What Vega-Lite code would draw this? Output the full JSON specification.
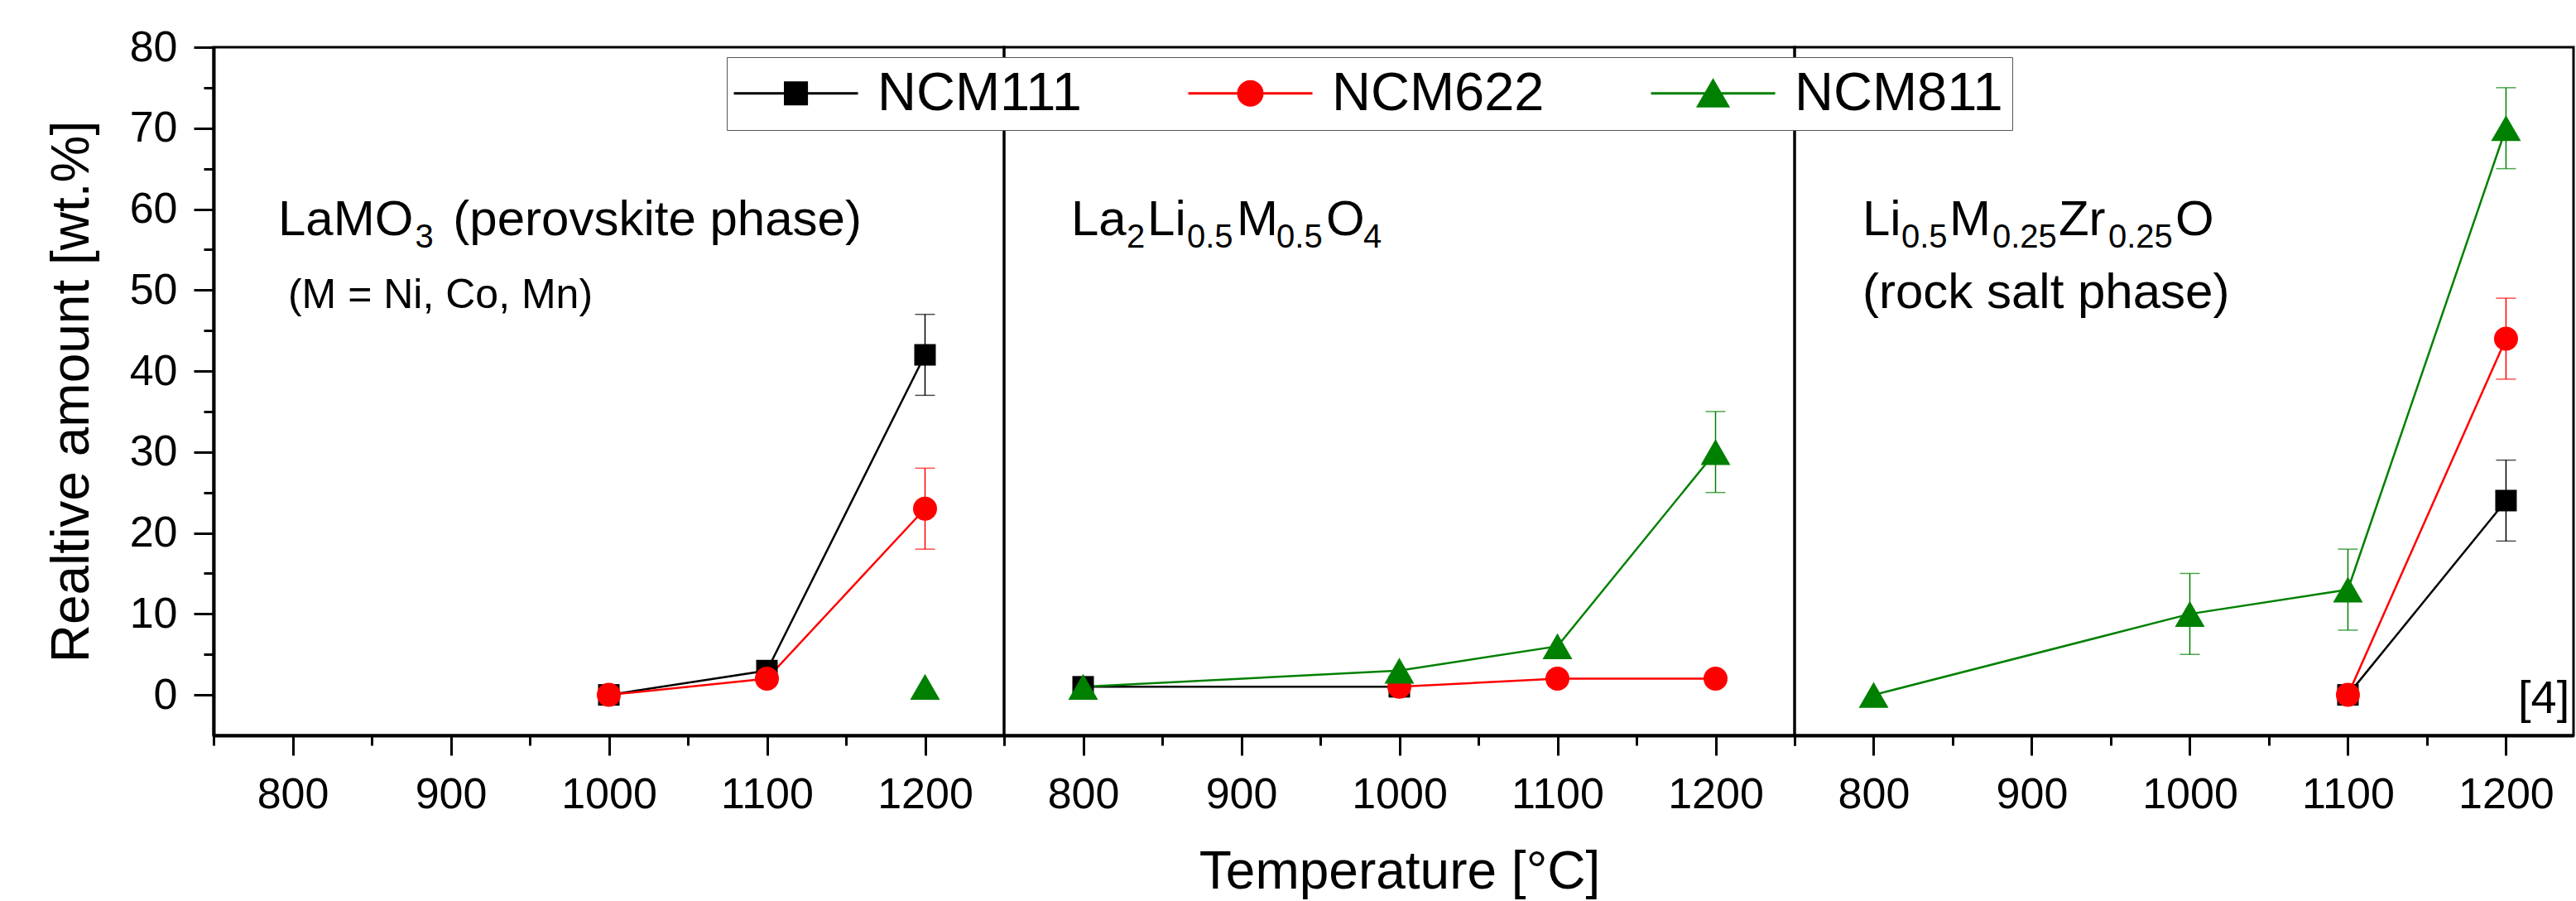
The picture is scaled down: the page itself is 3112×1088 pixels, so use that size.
{
  "$schema": "https://vega.github.io/schema/vega-lite/v6.json",
  "background": "white",
  "padding": {"left": 53, "top": 29, "right": 0, "bottom": 0},
  "spacing": 0,
  "bounds": "flush",
  "datasets": {
    "pts": [
      {"panel": "p1", "s": "NCM111", "t": 1000, "v": 0},
      {"panel": "p1", "s": "NCM111", "t": 1100, "v": 3},
      {"panel": "p1", "s": "NCM111", "t": 1200, "v": 42, "err": 5},
      {"panel": "p1", "s": "NCM622", "t": 1000, "v": 0},
      {"panel": "p1", "s": "NCM622", "t": 1100, "v": 2},
      {"panel": "p1", "s": "NCM622", "t": 1200, "v": 23, "err": 5},
      {"panel": "p1", "s": "NCM811", "t": 1200, "v": 1},
      {"panel": "p2", "s": "NCM111", "t": 800, "v": 1},
      {"panel": "p2", "s": "NCM111", "t": 1000, "v": 1},
      {"panel": "p2", "s": "NCM622", "t": 1000, "v": 1},
      {"panel": "p2", "s": "NCM622", "t": 1100, "v": 2},
      {"panel": "p2", "s": "NCM622", "t": 1200, "v": 2},
      {"panel": "p2", "s": "NCM811", "t": 800, "v": 1},
      {"panel": "p2", "s": "NCM811", "t": 1000, "v": 3},
      {"panel": "p2", "s": "NCM811", "t": 1100, "v": 6},
      {"panel": "p2", "s": "NCM811", "t": 1200, "v": 30, "err": 5},
      {"panel": "p3", "s": "NCM111", "t": 1100, "v": 0},
      {"panel": "p3", "s": "NCM111", "t": 1200, "v": 24, "err": 5},
      {"panel": "p3", "s": "NCM622", "t": 1100, "v": 0},
      {"panel": "p3", "s": "NCM622", "t": 1200, "v": 44, "err": 5},
      {"panel": "p3", "s": "NCM811", "t": 800, "v": 0},
      {"panel": "p3", "s": "NCM811", "t": 1000, "v": 10, "err": 5},
      {"panel": "p3", "s": "NCM811", "t": 1100, "v": 13, "err": 5},
      {"panel": "p3", "s": "NCM811", "t": 1200, "v": 70, "err": 5}
    ],
    "notes": [
      {"panel": "p1", "role": "main", "t": 790.8, "v": 56.78, "label": "LaMO"},
      {"panel": "p1", "role": "sub", "t": 877.5, "v": 55.25, "label": "3"},
      {"panel": "p1", "role": "main", "t": 901.5, "v": 56.78, "label": "(perovskite phase)"},
      {"panel": "p1", "role": "note", "t": 797.1, "v": 47.78, "label": "(M = Ni, Co, Mn)"},
      {"panel": "p2", "role": "main", "t": 792.4, "v": 56.78, "label": "La"},
      {"panel": "p2", "role": "sub", "t": 827.5, "v": 55.25, "label": "2"},
      {"panel": "p2", "role": "main", "t": 840.6, "v": 56.78, "label": "Li"},
      {"panel": "p2", "role": "sub", "t": 865.7, "v": 55.25, "label": "0.5"},
      {"panel": "p2", "role": "main", "t": 897.1, "v": 56.78, "label": "M"},
      {"panel": "p2", "role": "sub", "t": 922.3, "v": 55.25, "label": "0.5"},
      {"panel": "p2", "role": "main", "t": 953.7, "v": 56.78, "label": "O"},
      {"panel": "p2", "role": "sub", "t": 977.2, "v": 55.25, "label": "4"},
      {"panel": "p3", "role": "main", "t": 792.9, "v": 56.78, "label": "Li"},
      {"panel": "p3", "role": "sub", "t": 817.5, "v": 55.25, "label": "0.5"},
      {"panel": "p3", "role": "main", "t": 847.9, "v": 56.78, "label": "M"},
      {"panel": "p3", "role": "sub", "t": 875.1, "v": 55.25, "label": "0.25"},
      {"panel": "p3", "role": "main", "t": 917.0, "v": 56.78, "label": "Zr"},
      {"panel": "p3", "role": "sub", "t": 948.4, "v": 55.25, "label": "0.25"},
      {"panel": "p3", "role": "main", "t": 990.8, "v": 56.78, "label": "O"},
      {"panel": "p3", "role": "main", "t": 792.9, "v": 47.78, "label": "(rock salt phase)"},
      {"panel": "p3", "role": "ref", "t": 1207.6, "v": -2.19, "label": "[4]"}
    ]
  },
  "config": {
    "font": "Liberation Sans",
    "view": {"stroke": "black", "strokeWidth": 3},
    "axis": {
      "labelFont": "Liberation Sans", "titleFont": "Liberation Sans",
      "labelColor": "black", "titleColor": "black", "domainColor": "black", "tickColor": "black",
      "labelFontSize": 52, "titleFontSize": 64, "titleFontWeight": "normal",
      "tickWidth": 3, "domainWidth": 4, "grid": false, "tickSize": 24, "labelPadding": 22,
      "labelOverlap": false, "labelFlush": false
    },
    "legend": {"labelLimit": 600}
  },
  "resolve": {"scale": {"x": "independent", "y": "shared", "color": "shared"}},
  "hconcat": [
    {
      "width": 955, "height": 831,
      "resolve": {"axis": {"x": "independent", "y": "independent"}},
      "layer": [
        {
          "data": {"name": "pts"},
          "transform": [{"filter": "datum.panel === 'p1'"}],
          "mark": {"type": "line", "strokeWidth": 2.5},
          "encoding": {
            "x": {"field": "t", "type": "quantitative", "scale": {"domain": [750, 1250], "nice": false, "zero": false},
                  "axis": {"orient": "bottom", "values": [800, 900, 1000, 1100, 1200], "format": "d", "title": null}},
            "y": {"field": "v", "type": "quantitative", "scale": {"domain": [-5, 80], "nice": false, "zero": false},
                  "axis": {"orient": "left", "values": [0, 10, 20, 30, 40, 50, 60, 70, 80], "format": "d", "title": "Realtive amount [wt.%]",
                           "titleX": -152, "titleY": 415.5, "titleAngle": 270, "titleBaseline": "alphabetic", "titleAlign": "center",
                           "labelPadding": 20}},
            "color": {"field": "s", "type": "nominal", "scale": {"range": ["#000000", "#ff0000", "#008000"]}, "legend": null}
          }
        },
        {
          "data": {"name": "pts"},
          "transform": [{"filter": "datum.panel === 'p1' && datum.err > 0"}],
          "mark": {"type": "errorbar", "thickness": 1.5, "ticks": {"size": 24}},
          "encoding": {
            "x": {"field": "t", "type": "quantitative", "axis": null},
            "y": {"field": "v", "type": "quantitative", "axis": null},
            "yError": {"field": "err"},
            "color": {"field": "s", "type": "nominal", "legend": null}
          }
        },
        {
          "data": {"name": "pts"},
          "transform": [{"filter": "datum.panel === 'p1' && datum.s === 'NCM111'"}],
          "mark": {"type": "square", "size": 676, "opacity": 1, "filled": true},
          "encoding": {
            "x": {"field": "t", "type": "quantitative",
                  "axis": {"orient": "bottom", "values": [750, 850, 950, 1050, 1150, 1250], "labels": false, "domain": false, "tickSize": 12, "title": null}},
            "y": {"field": "v", "type": "quantitative",
                  "axis": {"orient": "left", "values": [5, 15, 25, 35, 45, 55, 65, 75], "labels": false, "domain": false, "tickSize": 12, "title": null}},
            "color": {"field": "s", "type": "nominal", "legend": null}
          }
        },
        {
          "data": {"name": "pts"},
          "transform": [{"filter": "datum.panel === 'p1' && datum.s === 'NCM622'"}],
          "mark": {"type": "circle", "size": 841, "opacity": 1},
          "encoding": {
            "x": {"field": "t", "type": "quantitative", "axis": null},
            "y": {"field": "v", "type": "quantitative", "axis": null},
            "color": {"field": "s", "type": "nominal", "legend": null}
          }
        },
        {
          "data": {"name": "pts"},
          "transform": [{"filter": "datum.panel === 'p1' && datum.s === 'NCM811'"}],
          "mark": {"type": "point", "shape": "triangle-up", "size": 1296, "opacity": 1, "filled": true},
          "encoding": {
            "x": {"field": "t", "type": "quantitative", "axis": null},
            "y": {"field": "v", "type": "quantitative", "axis": null},
            "color": {"field": "s", "type": "nominal", "legend": null}
          }
        },
        {
          "data": {"name": "pts"},
          "transform": [{"filter": "datum.panel === 'p1'"}],
          "mark": {"type": "point", "size": 0, "opacity": 1, "filled": true, "strokeWidth": 3},
          "encoding": {
            "x": {"field": "t", "type": "quantitative", "axis": null},
            "y": {"field": "v", "type": "quantitative", "axis": null},
            "fill": {"field": "s", "type": "nominal", "scale": {"domain": ["NCM111", "NCM622", "NCM811"], "range": ["#000000", "#ff0000", "#008000"]},
              "legend": {"title": null, "orient": "none", "legendX": 620, "legendY": 12, "direction": "horizontal",
                "labelFont": "Liberation Sans", "labelFontSize": 65, "labelColor": "black", "labelLimit": 600,
                "symbolSize": 900, "symbolStrokeWidth": 3, "symbolOpacity": 1, "labelOffset": 106, "columnPadding": 122,
                "padding": 11, "strokeColor": "#555555", "fillColor": "white", "zindex": 5}},
            "stroke": {"field": "s", "type": "nominal", "scale": {"domain": ["NCM111", "NCM622", "NCM811"], "range": ["#000000", "#ff0000", "#008000"]},
              "legend": {"title": null, "orient": "none", "legendX": 620, "legendY": 12, "direction": "horizontal",
                "labelFont": "Liberation Sans", "labelFontSize": 65, "labelColor": "black", "labelLimit": 600,
                "symbolSize": 900, "symbolStrokeWidth": 3, "symbolOpacity": 1, "labelOffset": 106, "columnPadding": 122,
                "padding": 11, "strokeColor": "#555555", "fillColor": "white", "zindex": 5}},
            "shape": {"field": "s", "type": "nominal",
              "scale": {"domain": ["NCM111", "NCM622", "NCM811"],
                        "range": ["M-2.33,0H7.67M1.8,-0.87H3.54V0.87H1.8Z", "M-2.33,0H7.67M1.7,0A0.97,0.97,0,1,0,3.64,0A0.97,0.97,0,1,0,1.7,0Z", "M-2.33,0H7.67M2.67,-1.04L3.87,1.04H1.47Z"]},
              "legend": {"title": null, "orient": "none", "legendX": 620, "legendY": 12, "direction": "horizontal",
                "labelFont": "Liberation Sans", "labelFontSize": 65, "labelColor": "black", "labelLimit": 600,
                "symbolSize": 900, "symbolStrokeWidth": 3, "symbolOpacity": 1, "labelOffset": 106, "columnPadding": 122,
                "padding": 11, "strokeColor": "#555555", "fillColor": "white", "zindex": 5}}
          }
        },
        {
          "data": {"name": "notes"},
          "transform": [{"filter": "datum.panel === 'p1' && datum.role === 'main'"}],
          "mark": {"type": "text", "align": "left", "baseline": "alphabetic", "font": "Liberation Sans", "fontSize": 60, "color": "black"},
          "encoding": {"x": {"field": "t", "type": "quantitative", "axis": null}, "y": {"field": "v", "type": "quantitative", "axis": null}, "text": {"field": "label"}}
        },
        {
          "data": {"name": "notes"},
          "transform": [{"filter": "datum.panel === 'p1' && datum.role === 'sub'"}],
          "mark": {"type": "text", "align": "left", "baseline": "alphabetic", "font": "Liberation Sans", "fontSize": 40, "color": "black"},
          "encoding": {"x": {"field": "t", "type": "quantitative", "axis": null}, "y": {"field": "v", "type": "quantitative", "axis": null}, "text": {"field": "label"}}
        },
        {
          "data": {"name": "notes"},
          "transform": [{"filter": "datum.panel === 'p1' && datum.role === 'note'"}],
          "mark": {"type": "text", "align": "left", "baseline": "alphabetic", "font": "Liberation Sans", "fontSize": 50, "color": "black"},
          "encoding": {"x": {"field": "t", "type": "quantitative", "axis": null}, "y": {"field": "v", "type": "quantitative", "axis": null}, "text": {"field": "label"}}
        }
      ]
    },
    {
      "width": 955, "height": 831,
      "resolve": {"axis": {"x": "independent", "y": "independent"}},
      "layer": [
        {
          "data": {"name": "pts"},
          "transform": [{"filter": "datum.panel === 'p2'"}],
          "mark": {"type": "line", "strokeWidth": 2.5},
          "encoding": {
            "x": {"field": "t", "type": "quantitative", "scale": {"domain": [750, 1250], "nice": false, "zero": false},
                  "axis": {"orient": "bottom", "values": [800, 900, 1000, 1100, 1200], "format": "d", "title": "Temperature [°C]",
                           "titleX": 477.5, "titleY": 184, "titleBaseline": "alphabetic", "titleAlign": "center"}},
            "y": {"field": "v", "type": "quantitative", "scale": {"domain": [-5, 80], "nice": false, "zero": false}, "axis": null},
            "color": {"field": "s", "type": "nominal", "legend": null}
          }
        },
        {
          "data": {"name": "pts"},
          "transform": [{"filter": "datum.panel === 'p2' && datum.err > 0"}],
          "mark": {"type": "errorbar", "thickness": 1.5, "ticks": {"size": 24}},
          "encoding": {
            "x": {"field": "t", "type": "quantitative", "axis": null},
            "y": {"field": "v", "type": "quantitative", "axis": null},
            "yError": {"field": "err"},
            "color": {"field": "s", "type": "nominal", "legend": null}
          }
        },
        {
          "data": {"name": "pts"},
          "transform": [{"filter": "datum.panel === 'p2' && datum.s === 'NCM111'"}],
          "mark": {"type": "square", "size": 676, "opacity": 1, "filled": true},
          "encoding": {
            "x": {"field": "t", "type": "quantitative",
                  "axis": {"orient": "bottom", "values": [750, 850, 950, 1050, 1150, 1250], "labels": false, "domain": false, "tickSize": 12, "title": null}},
            "y": {"field": "v", "type": "quantitative", "axis": null},
            "color": {"field": "s", "type": "nominal", "legend": null}
          }
        },
        {
          "data": {"name": "pts"},
          "transform": [{"filter": "datum.panel === 'p2' && datum.s === 'NCM622'"}],
          "mark": {"type": "circle", "size": 841, "opacity": 1},
          "encoding": {
            "x": {"field": "t", "type": "quantitative", "axis": null},
            "y": {"field": "v", "type": "quantitative", "axis": null},
            "color": {"field": "s", "type": "nominal", "legend": null}
          }
        },
        {
          "data": {"name": "pts"},
          "transform": [{"filter": "datum.panel === 'p2' && datum.s === 'NCM811'"}],
          "mark": {"type": "point", "shape": "triangle-up", "size": 1296, "opacity": 1, "filled": true},
          "encoding": {
            "x": {"field": "t", "type": "quantitative", "axis": null},
            "y": {"field": "v", "type": "quantitative", "axis": null},
            "color": {"field": "s", "type": "nominal", "legend": null}
          }
        },
        {
          "data": {"name": "notes"},
          "transform": [{"filter": "datum.panel === 'p2' && datum.role === 'main'"}],
          "mark": {"type": "text", "align": "left", "baseline": "alphabetic", "font": "Liberation Sans", "fontSize": 60, "color": "black"},
          "encoding": {"x": {"field": "t", "type": "quantitative", "axis": null}, "y": {"field": "v", "type": "quantitative", "axis": null}, "text": {"field": "label"}}
        },
        {
          "data": {"name": "notes"},
          "transform": [{"filter": "datum.panel === 'p2' && datum.role === 'sub'"}],
          "mark": {"type": "text", "align": "left", "baseline": "alphabetic", "font": "Liberation Sans", "fontSize": 40, "color": "black"},
          "encoding": {"x": {"field": "t", "type": "quantitative", "axis": null}, "y": {"field": "v", "type": "quantitative", "axis": null}, "text": {"field": "label"}}
        }
      ]
    },
    {
      "width": 941, "height": 831,
      "resolve": {"axis": {"x": "independent", "y": "independent"}},
      "layer": [
        {
          "data": {"name": "pts"},
          "transform": [{"filter": "datum.panel === 'p3'"}],
          "mark": {"type": "line", "strokeWidth": 2.5},
          "encoding": {
            "x": {"field": "t", "type": "quantitative", "scale": {"domain": [750, 1242.7], "nice": false, "zero": false},
                  "axis": {"orient": "bottom", "values": [800, 900, 1000, 1100, 1200], "format": "d", "title": null}},
            "y": {"field": "v", "type": "quantitative", "scale": {"domain": [-5, 80], "nice": false, "zero": false}, "axis": null},
            "color": {"field": "s", "type": "nominal", "legend": null}
          }
        },
        {
          "data": {"name": "pts"},
          "transform": [{"filter": "datum.panel === 'p3' && datum.err > 0"}],
          "mark": {"type": "errorbar", "thickness": 1.5, "ticks": {"size": 24}},
          "encoding": {
            "x": {"field": "t", "type": "quantitative", "axis": null},
            "y": {"field": "v", "type": "quantitative", "axis": null},
            "yError": {"field": "err"},
            "color": {"field": "s", "type": "nominal", "legend": null}
          }
        },
        {
          "data": {"name": "pts"},
          "transform": [{"filter": "datum.panel === 'p3' && datum.s === 'NCM111'"}],
          "mark": {"type": "square", "size": 676, "opacity": 1, "filled": true},
          "encoding": {
            "x": {"field": "t", "type": "quantitative",
                  "axis": {"orient": "bottom", "values": [750, 850, 950, 1050, 1150], "labels": false, "domain": false, "tickSize": 12, "title": null}},
            "y": {"field": "v", "type": "quantitative", "axis": null},
            "color": {"field": "s", "type": "nominal", "legend": null}
          }
        },
        {
          "data": {"name": "pts"},
          "transform": [{"filter": "datum.panel === 'p3' && datum.s === 'NCM622'"}],
          "mark": {"type": "circle", "size": 841, "opacity": 1},
          "encoding": {
            "x": {"field": "t", "type": "quantitative", "axis": null},
            "y": {"field": "v", "type": "quantitative", "axis": null},
            "color": {"field": "s", "type": "nominal", "legend": null}
          }
        },
        {
          "data": {"name": "pts"},
          "transform": [{"filter": "datum.panel === 'p3' && datum.s === 'NCM811'"}],
          "mark": {"type": "point", "shape": "triangle-up", "size": 1296, "opacity": 1, "filled": true},
          "encoding": {
            "x": {"field": "t", "type": "quantitative", "axis": null},
            "y": {"field": "v", "type": "quantitative", "axis": null},
            "color": {"field": "s", "type": "nominal", "legend": null}
          }
        },
        {
          "data": {"name": "notes"},
          "transform": [{"filter": "datum.panel === 'p3' && datum.role === 'main'"}],
          "mark": {"type": "text", "align": "left", "baseline": "alphabetic", "font": "Liberation Sans", "fontSize": 60, "color": "black"},
          "encoding": {"x": {"field": "t", "type": "quantitative", "axis": null}, "y": {"field": "v", "type": "quantitative", "axis": null}, "text": {"field": "label"}}
        },
        {
          "data": {"name": "notes"},
          "transform": [{"filter": "datum.panel === 'p3' && datum.role === 'sub'"}],
          "mark": {"type": "text", "align": "left", "baseline": "alphabetic", "font": "Liberation Sans", "fontSize": 40, "color": "black"},
          "encoding": {"x": {"field": "t", "type": "quantitative", "axis": null}, "y": {"field": "v", "type": "quantitative", "axis": null}, "text": {"field": "label"}}
        },
        {
          "data": {"name": "notes"},
          "transform": [{"filter": "datum.panel === 'p3' && datum.role === 'ref'"}],
          "mark": {"type": "text", "align": "left", "baseline": "alphabetic", "font": "Liberation Sans", "fontSize": 56, "color": "black"},
          "encoding": {"x": {"field": "t", "type": "quantitative", "axis": null}, "y": {"field": "v", "type": "quantitative", "axis": null}, "text": {"field": "label"}}
        }
      ]
    }
  ]
}
